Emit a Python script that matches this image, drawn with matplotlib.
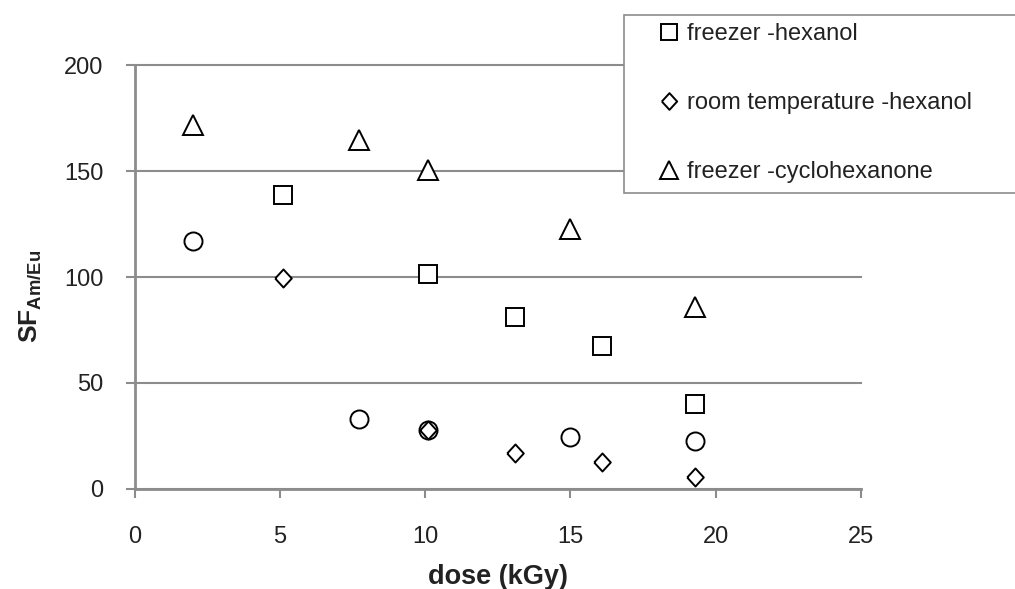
import matplotlib.pyplot as plt
from matplotlib.lines import Line2D
from matplotlib.patches import Rectangle

plt.rcParams['font.family'] = ['Liberation Sans', 'DejaVu Sans']
plt.rcParams['mathtext.fontset'] = 'custom'
plt.rcParams['mathtext.rm'] = 'Liberation Sans'
plt.rcParams['mathtext.bf'] = 'Liberation Sans:bold'

# dose (kGy) and SF Am/Eu for each series
dose_fz_hex = [5.1, 10.1, 13.1, 16.1, 19.3]
sf_fz_hex = [138.5, 101.5, 81, 67.5, 40]

dose_rt_hex = [5.1, 10.1, 13.1, 16.1, 19.3]
sf_rt_hex = [99.5, 28, 17, 12.7, 5.7]

dose_fz_cyc = [2.0, 7.7, 10.1, 15.0, 19.3]
sf_fz_cyc = [171.7, 164.6, 150.5, 122.6, 85.8]

dose_rt_cyc = [2.0, 7.7, 10.1, 15.0, 19.3]
sf_rt_cyc = [117, 33, 27.8, 24.5, 22.6]

labels = ["freezer -hexanol", "room temperature -hexanol", "freezer -cyclohexanone"]

grey = "#8c8c8c"
txt = "#222222"
diamond = [(-0.46, 0), (0, 0.5), (0.46, 0), (0, -0.5), (-0.46, 0)]
mk = dict(linestyle="none", markerfacecolor="white", markeredgecolor="black",
          markeredgewidth=1.4)

fig = plt.figure(figsize=(10.15, 5.89), dpi=100)
ax = fig.add_axes([0.133, 0.1698, 0.715, 0.7198])

ax.plot(dose_rt_cyc, sf_rt_cyc, marker="o", markersize=13, **mk)
ax.plot(dose_fz_hex, sf_fz_hex, marker="s", markersize=12.5, **mk)
ax.plot(dose_rt_hex, sf_rt_hex, marker=diamond, markersize=13, **mk)
ax.plot(dose_fz_cyc, sf_fz_cyc, marker="^", markersize=14, **mk)

ax.set_xlim(0, 25)
ax.set_ylim(0, 200)
ax.set_xticks([0, 5, 10, 15, 20, 25])
ax.set_yticks([0, 50, 100, 150, 200])
ax.yaxis.grid(True, color=grey, linewidth=1.5)
for g in ax.get_ygridlines():
    g.set_clip_on(False)
ax.set_axisbelow(True)

for s in ["top", "right"]:
    ax.spines[s].set_visible(False)
for s in ["left", "bottom"]:
    ax.spines[s].set_color(grey)
    ax.spines[s].set_linewidth(2)
ax.tick_params(axis="both", direction="out", length=6.5, width=1.5, color=grey,
               labelsize=17, labelcolor=txt)
ax.tick_params(axis="x", pad=20)
ax.tick_params(axis="y", pad=16)

ax.set_xlabel("dose (kGy)", fontsize=19.5, fontweight="bold", color=txt, labelpad=12)
ax.set_ylabel(r"$\mathbf{SF}_{\mathbf{Am/Eu}}$", fontsize=19, color=txt)
ax.yaxis.set_label_coords(-0.127, 0.455)

# legend box runs off the right edge of the figure
fig.patches.append(Rectangle((624 / 1015, 1 - 193 / 589), 0.5, 178 / 589,
                             transform=fig.transFigure, facecolor="white",
                             edgecolor=grey, linewidth=1.2, zorder=5))
handles = [Line2D([], [], marker="s", markersize=12, **mk),
           Line2D([], [], marker=diamond, markersize=12, **mk),
           Line2D([], [], marker="^", markersize=13, **mk)]
leg = fig.legend(handles, labels, loc="upper left",
                 bbox_to_anchor=(657 / 1015, 1 - 23 / 589), frameon=False,
                 fontsize=17, labelspacing=2.0, handlelength=1.0,
                 handletextpad=0.27, borderaxespad=0, borderpad=0)
leg.set_zorder(6)
for t in leg.get_texts():
    t.set_color(txt)

fig.savefig("out.png", dpi=100)
